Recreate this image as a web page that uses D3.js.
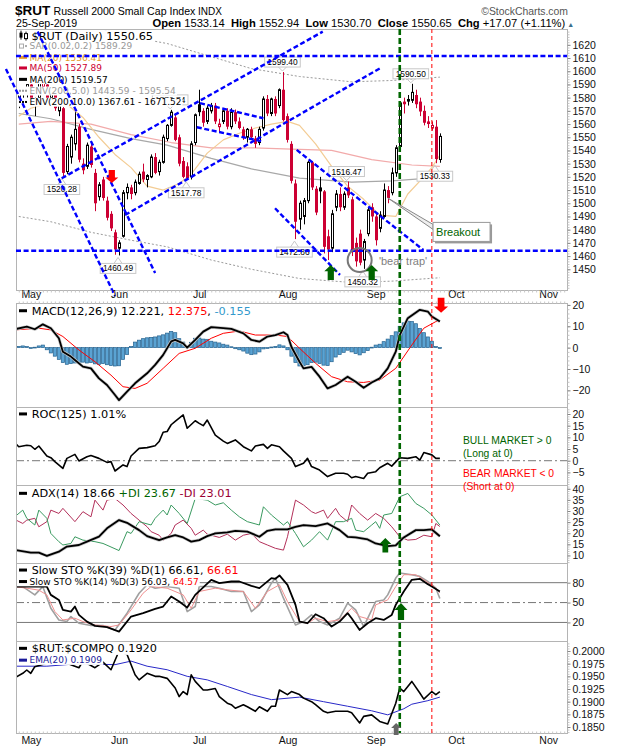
<!DOCTYPE html>
<html>
<head>
<meta charset="utf-8">
<script src="https://cdn.jsdelivr.net/npm/d3@7"></script>
<style>
  body { margin: 0; background: #fff; }
  svg { display: block; font-family: "Liberation Sans", Arial, sans-serif; }
</style>
</head>
<body>
<svg id="chart" width="620" height="750"></svg>
<script>
// ---------- data (trading-day index 0 = 1 May 2019) ----------
var months = ["May", "Jun", "Jul", "Aug", "Sep", "Oct", "Nov"];
var monthStart = [0, 22, 42, 64, 86, 106, 129];
var firstDay = -3;

//            days -3..6 / 7..16 / 17..26 / 27..36 / 37..46 / 47..56 / 57..66 / 67..76 / 77..86 / 87..96 / 97..102
var opens = [1578,1583,1585,1590,1575,1580,1588,1590,1580,1583,
  1570,1572,1524,1535,1545,1558,1530,1528,1543,1523,
  1505,1518,1502,1492,1478,1466,1475,1508,1512,1508,
  1515,1524,1518,1520,1535,1524,1531,1549,1559,1565,
  1550,1532,1528,1520,1546,1575,1570,1562,1570,1574,
  1558,1562,1570,1558,1569,1562,1556,1550,1556,1549,
  1546,1557,1579,1568,1579,1574,1586,1566,1545,1515,
  1488,1490,1502,1531,1511,1512,1509,1475,1466,1497,
  1507,1497,1512,1503,1470,1477,1457,1477,1497,1490,
  1481,1490,1510,1508,1523,1543,1577,1579,1578,1582,
  1577,1570,1562,1557,1558,1533.14];
var highs = [1585,1588,1592,1595,1580,1597,1596,1594,1588,1585,
  1578,1573,1545,1552,1569,1560,1534,1546,1545,1526,
  1516,1520,1505,1494,1480,1472,1510,1515,1514,1518,
  1524,1530,1522,1537,1538,1533,1552,1560,1570.74,1568,
  1552,1535,1531,1547,1568,1586,1572,1574,1576,1576,
  1564,1572,1572,1572,1571,1565,1558,1557,1558,1551,
  1558,1581,1582,1580,1581,1587,1599.40,1568,1547,1518,
  1502,1504,1532,1532,1513,1520,1510,1480,1495,1510,
  1512,1509,1516.47,1505,1474,1480,1473,1497,1500,1493,
  1494,1515,1513,1527,1544,1577,1580,1582,1590.50,1586,
  1580,1574,1566,1562,1563,1552.94];
var lows = [1572,1578,1580,1574,1566,1579,1582,1576,1575,1570,
  1566,1520.28,1522,1530,1540,1531,1522,1526,1527,1494,
  1502,1502,1487,1479,1461,1460.49,1474,1503,1503,1506,
  1514,1516,1512,1519,1522,1521,1530,1547,1558,1547,
  1528,1519,1517.78,1518,1544,1566,1558,1560,1568,1560,
  1554,1560,1556,1556,1560,1556,1548,1546,1548,1542,
  1544,1555,1566,1566,1566,1572,1562,1546,1515,1472.86,
  1480,1484,1500,1510,1491,1500,1462,1457,1463,1494,
  1494,1495,1504,1460,1452,1453,1450.32,1475,1486,1468,
  1478,1489,1500,1506,1520,1542,1568,1574,1576,1572,
  1566,1559,1557,1555,1530.33,1530.70];
var closes = [1583,1586,1590,1576,1578,1594,1592,1579,1583,1572,
  1575,1523,1543,1550,1556,1533,1525,1544,1529,1500,
  1514,1504,1489,1481,1465,1470,1508,1512,1507,1516,
  1522,1518,1521,1535,1523,1531,1550,1559,1569,1548,
  1530,1520,1519,1545,1567,1569,1561,1572,1574,1562,
  1560,1570,1558,1569,1562,1557,1550,1556,1550,1545,
  1556,1579,1568,1579,1568,1586,1563,1548,1517,1486,
  1500,1502,1531,1512,1493,1509,1467,1465,1492,1507,
  1497,1507,1506,1463,1456,1455,1471,1495,1490,1472,
  1491,1510,1504,1523,1542,1576,1575,1577,1584,1575,
  1569.5,1561,1560,1559,1533.5,1550.65];

// overlays: [day, value]
var ma20 = [[-3,1566],[0,1572],[5,1576],[9,1575],[13,1565],[17,1550],[21,1537],[25,1527],[29,1513],[33,1510],[37,1515],[40,1522],[44,1538],[48,1548],[52,1553],[56,1557],[60,1560],[64,1562],[67,1559],[71,1545],[75,1528],[79,1513],[83,1503],[87,1491],[91,1490],[94,1507],[98,1520],[100,1527],[102,1536.41]];
var ma50 = [[-3,1560],[5,1562],[15,1560],[25,1552],[35,1546],[45,1542],[55,1542],[65,1541],[75,1540],[85,1533],[95,1529],[102,1527.89]];
var ma200 = [[-3,1568],[5,1564],[15,1556],[25,1549],[34,1544],[45,1534],[55,1526],[67,1519],[80,1516],[90,1517],[102,1519.57]];
var envUpper = [[-3,1646],[5,1642],[15,1634],[25,1626],[34,1621],[45,1611],[55,1602],[67,1596],[80,1592],[90,1593],[102,1595.54]];
var envLower = [[-3,1490],[5,1486],[15,1478],[25,1472],[34,1467],[45,1457],[55,1450],[67,1443],[80,1440],[90,1441],[102,1443.59]];

var macd = [[-4,8.6],[-1,9.8],[1,8.6],[3,10.9],[5,9.1],[7,4.4],[8,-1.9],[10,-4.2],[11,-5.8],[13,-8.9],[15,-9.7],[17,-14.4],[19,-17.5],[21,-22.2],[22,-24.6],[24,-20.6],[26,-16.7],[29,-12],[31,-8.1],[33,-3.4],[35,2.9],[36,3.6],[38,2.0],[39,0],[41,3.6],[43,7.5],[45,9.6],[48,9.1],[50,8.8],[53,6.7],[55,3.6],[57,2.8],[59,5.2],[61,5.9],[63,7.2],[64,5.9],[65,0.3],[67,-6.6],[68,-9.7],[70,-9],[72,-13.6],[74,-19.1],[76,-17.5],[79,-13.6],[81,-16],[83,-18.8],[85,-16.3],[87,-14.4],[89,-9.7],[91,-1.9],[92,5.9],[94,13.8],[97,17.7],[99,16.9],[100,14.6],[102,12.221]];
var signal = [[-4,8.3],[2,9.1],[5,8.3],[8,5.2],[12,-1.1],[16,-6.6],[20,-12.9],[23,-18.3],[26,-19.1],[29,-16.7],[33,-9.7],[37,-2.7],[41,-0.3],[45,4.4],[48,6.7],[52,7.8],[56,5.9],[61,5.9],[64,5.2],[67,-0.3],[71,-7.3],[75,-13.6],[79,-16],[83,-16.3],[87,-15.2],[91,-9.7],[95,1.2],[98,9.1],[101,12.2],[102,12.375]];
var histogram = [0.6,0.8,0.5,-0.4,0.2,0.8,1.2,-1.0,-2.5,-4.0,
  -5.5,-7.0,-7.8,-7.5,-7.2,-7.0,-6.8,-7.2,-7.0,-7.6,
  -7.9,-7.5,-8.0,-8.4,-8.6,-8.5,-5.5,-3.2,0.5,2.6,
  3.5,4.2,4.6,4.8,5.0,5.5,6.0,6.8,7.6,7.0,
  4.2,2.6,0.8,2.5,4.4,4.5,4.0,3.9,3.0,2.6,
  2.2,1.6,1.2,0.4,-0.5,-1.0,-1.6,-2.6,-3.3,-3.0,
  -2.0,-0.6,-0.2,0.3,0.6,1.3,0.8,-1.0,-4.0,-7.0,
  -8.6,-8.5,-8.0,-7.0,-6.8,-7.4,-8.2,-8.4,-6.6,-4.4,
  -3.2,-2.2,-1.2,-2.0,-2.8,-3.4,-2.4,-1.4,0.2,1.2,
  1.6,2.8,4.0,5.6,7.4,10.0,11.6,12.4,12.2,11.2,
  9.0,7.0,5.0,3.0,0.5,-0.155];

var roc = [[-4,7.7],[-3,6.0],[-1,6.6],[0,6.4],[1,4.9],[2,6.3],[4,2.0],[5,1.3],[6,-0.4],[8,-3.3],[9,1.0],[11,2.7],[12,-0.1],[14,1.7],[15,2.2],[17,1.0],[19,-0.7],[20,-0.4],[21,-4.4],[23,-1.8],[24,-2.5],[25,2.0],[27,5.3],[29,5.6],[31,6.4],[32,8.2],[33,12.2],[34,12.5],[35,15.4],[36,16.8],[38,19.6],[39,13.9],[41,17.1],[42,16.0],[43,15.0],[44,17.4],[46,11.0],[48,8.4],[49,7.4],[51,8.9],[53,6.0],[55,4.2],[56,6.3],[58,7.0],[59,5.3],[60,6.8],[62,6.0],[63,4.2],[65,1.0],[66,-2.5],[68,-1.1],[69,1.0],[70,-2.5],[72,-4.0],[74,-6.8],[76,-5.4],[78,-5.4],[79,-5.8],[80,-7.3],[81,-6.8],[83,-7.6],[84,-5.4],[86,-4.7],[87,-3.0],[89,-1.1],[90,-2.3],[92,1.3],[94,1.0],[96,1.7],[97,0.3],[98,3.5],[100,2.5],[101,1.0],[102,1.01]];

var adx = [[-4,12.5],[0,11.3],[2,11.3],[4,9.8],[7,11.7],[9,14],[12,14.7],[14,16.2],[17,18.5],[19,22.2],[22,25.9],[24,24.7],[27,21.4],[29,18.7],[32,16.9],[34,18.1],[36,19.1],[38,18.1],[40,16.2],[42,16.9],[44,18.7],[46,19.9],[49,20.4],[51,21.1],[54,20.7],[57,18.4],[59,21.1],[61,21.7],[64,21.7],[66,22.9],[68,23.6],[71,23.2],[74,24.4],[77,21.4],[79,18.4],[81,18.1],[84,17.2],[86,15.4],[89,14.2],[91,14.5],[93,18.1],[96,21.4],[98,21.4],[100,21.7],[102,18.66]];
var plusDI = [[-4,27.4],[-2,30.4],[-1,26.7],[1,23.7],[2,30.4],[4,26.7],[5,19.9],[7,16.2],[8,14.7],[10,15.4],[11,18.4],[13,16.9],[16,16.2],[18,15.4],[22,12.2],[24,20.7],[25,19.9],[27,25.2],[30,23.7],[31,26.7],[33,30.4],[34,28.2],[35,32.7],[37,28.9],[39,24.4],[41,35.6],[44,34.9],[46,32.7],[48,33.7],[50,30.4],[52,27.4],[54,25.2],[57,23.7],[58,31.9],[60,28.2],[63,23.7],[64,25.2],[66,19.9],[68,13.9],[70,16.9],[72,20.7],[74,16.9],[76,25.2],[78,25.2],[80,26.7],[81,21.4],[83,20.7],[85,23.7],[86,25.2],[87,22.2],[88,28.2],[90,28.9],[92,36.4],[94,37.9],[96,33.4],[98,31.2],[100,28.2],[102,23.67]];
var minusDI = [[-4,26.2],[-2,24.4],[-1,25.9],[1,26.7],[2,22.9],[4,25.2],[5,30.4],[7,28.9],[8,31.2],[11,25.2],[13,29.7],[15,27.4],[16,34.9],[18,30.4],[19,34.9],[21,35.6],[23,32.7],[25,28.9],[27,25.9],[29,22.9],[30,20.7],[32,19.1],[33,16.9],[35,19.9],[36,23.7],[38,25.9],[40,22.2],[41,19.1],[43,21.4],[44,19.6],[47,18.1],[49,19.6],[51,16.9],[53,19.1],[55,19.9],[57,16.2],[59,14.7],[61,13.2],[63,12.4],[64,18.4],[66,34.9],[68,32.7],[70,29.7],[71,28.9],[73,30.4],[74,26.7],[76,31.2],[77,28.2],[79,25.2],[80,32.7],[82,28.9],[84,25.9],[86,28.9],[88,26.7],[90,22.9],[92,18.4],[94,16.9],[96,17.2],[98,19.1],[100,18.4],[101,24.4],[102,23.01]];

var sto39 = [[-4,74.2],[0,74.2],[4,74.2],[5,61.6],[7,54],[8,38.9],[10,36.4],[11,44],[12,31.4],[14,21.3],[16,14.8],[19,12.8],[22,6.2],[25,28.9],[28,34],[31,40.5],[33,44],[35,59.1],[37,51.5],[39,42.4],[41,61.6],[45,84.3],[47,79.3],[50,81.8],[52,81.8],[55,75.3],[57,71.7],[60,86.9],[61,85.9],[62,90.9],[64,76.8],[66,46.5],[67,21.3],[69,18.8],[71,32.4],[73,26.4],[75,13.8],[77,21.3],[79,34],[80,26.4],[82,8.7],[84,18.8],[86,26.4],[88,23.8],[90,31.4],[91,46.5],[93,66.7],[95,84.3],[97,85.9],[99,77.8],[100,74.2],[102,66.61]];
var sto14K = [[-4,74],[-2,74],[1,61.6],[3,74],[5,41.4],[7,23.8],[9,21.3],[10,28.9],[12,18.8],[15,15.3],[18,15.3],[21,8.7],[24,34],[27,64.1],[29,76.8],[31,71.7],[34,74.2],[37,71.7],[39,36.4],[41,44],[42,74.2],[45,74.2],[47,71.7],[50,66.7],[53,66.7],[55,36.4],[57,46.5],[60,79.3],[61,86.9],[63,56.6],[66,16.2],[68,21.3],[70,31.4],[72,21.3],[74,16.2],[77,26.4],[79,49],[81,38.9],[83,13.8],[86,51.5],[88,54],[89,61.6],[91,86.9],[92,94.5],[95,92],[97,89.5],[99,81.8],[101,71.7],[102,56.03]];
var sto14D = [[-4,74],[-1,71.7],[2,68.7],[4,61.6],[6,36.4],[8,23.8],[11,26.4],[13,21.3],[16,16.2],[20,13.8],[22,16.2],[25,38.9],[28,64.1],[30,74.2],[34,71.7],[38,61.6],[40,41.4],[42,66.7],[46,71.7],[49,69.2],[53,66.7],[56,41.4],[59,66.7],[62,76.8],[64,51.5],[67,21.3],[69,18.8],[71,26.4],[74,21.3],[77,23.8],[80,41.4],[82,28.9],[85,23.8],[86,46.5],[89,54],[91,74.2],[93,92],[96,92],[98,84.3],[101,71.7],[102,64.57]];

var ratio = [[-4,0.1947],[-2,0.1956],[-1,0.19625],[0,0.1956],[1,0.1969],[4,0.1976],[6,0.1982],[8,0.1979],[10,0.1973],[12,0.1967],[13,0.1980],[16,0.1967],[18,0.1978],[20,0.1963],[22,0.2000],[24,0.1993],[26,0.1953],[27,0.1943],[29,0.1956],[31,0.1950],[32,0.1950],[34,0.1946],[36,0.1927],[37,0.1910],[38,0.1920],[39,0.1914],[40,0.1953],[41,0.1940],[43,0.1923],[44,0.1923],[46,0.1926],[47,0.1910],[49,0.1897],[50,0.1894],[51,0.1887],[53,0.1894],[54,0.1890],[56,0.1881],[57,0.1890],[59,0.1881],[60,0.1891],[61,0.1891],[62,0.1923],[64,0.1914],[65,0.1920],[67,0.1914],[68,0.1907],[70,0.1900],[71,0.1894],[73,0.1881],[74,0.1878],[76,0.1881],[77,0.1881],[79,0.1881],[80,0.1878],[82,0.1858],[83,0.1871],[85,0.1874],[87,0.1861],[89,0.1856],[91,0.1897],[92,0.1927],[93,0.1920],[95,0.1940],[97,0.1917],[98,0.1905],[100,0.1920],[101,0.1914],[102,0.1920]];
var ratioEma = [[-4,0.1970],[4,0.1970],[12,0.1975],[21,0.1973],[25,0.1980],[29,0.1970],[34,0.1963],[39,0.1950],[44,0.1943],[49,0.1930],[55,0.1914],[60,0.1904],[67,0.1909],[73,0.1900],[79,0.1891],[85,0.1882],[89,0.1874],[93,0.1886],[95,0.1895],[99,0.1902],[102,0.1909]];

// annotations on the price panel, in [day, price]
var priceTags = [[63,1599.40,1],[95,1590.50,1],[79,1516.47,1],[35,1570.74,1],[8,1520.28,-1],[22,1460.49,-1],[39,1517.78,-1],[66,1472.86,-1],[83,1450.32,-1],[101,1530.33,-1]];
var trendLines = [
  [[-6.2,1601.7],[21.0,1429.8]], [[1.7,1630],[31.0,1447.2]],
  [[7.7,1518.9],[72.8,1630]], [[23.5,1491.1],[87.1,1602.3]],
  [[42.2,1575.8],[58.0,1564.4]], [[41.4,1557.6],[58.0,1546.7]],
  [[66.3,1540.4],[97.9,1464.6]], [[60.9,1496.2],[77.1,1445.7]]
];
var levelLines = [1611.6, 1464];
var greenDay = 92, redDay = 100;

// ---------- layout ----------
var svg = d3.select("#chart");
var left = 16, right = 567;
var x = d3.scaleLinear().domain([-3.69, 133.7]).range([left, right]);

var panels = {
  price: { top: 29, bottom: 290, domain: [1434.3, 1632] },
  macd:  { top: 303, bottom: 407, domain: [-27.8, 20.9] },
  roc:   { top: 407, bottom: 485, domain: [-10.4, 23] },
  adx:   { top: 485, bottom: 563, domain: [6.6, 41.7] },
  sto:   { top: 563, bottom: 641, domain: [-8, 109.7] },
  ratio: { top: 641, bottom: 733, domain: [0.18382, 0.20197] }
};
var defs = svg.append("defs");
Object.keys(panels).forEach(function(k) {
  var p = panels[k];
  p.y = d3.scaleLinear().domain(p.domain).range([p.bottom, p.top]);
  defs.append("clipPath").attr("id", "clip-" + k).append("rect")
    .attr("x", left).attr("y", p.top).attr("width", right - left).attr("height", p.bottom - p.top);
  p.g = svg.append("g");
  p.plot = p.g.append("g").attr("clip-path", "url(#clip-" + k + ")");
});

function frame(p) {
  p.g.append("rect").attr("x", left + 0.5).attr("y", p.top + 0.5)
    .attr("width", right - left).attr("height", p.bottom - p.top)
    .attr("fill", "none").attr("stroke", "#b4b4b4");
}

function rightAxis(p, ticks, fmt, minor) {
  if (minor) {
    p.g.append("g").attr("transform", "translate(" + (right + 0.5) + ",0)")
      .call(d3.axisRight(p.y).tickValues(minor).tickSize(2).tickFormat(""))
      .call(function(a) { a.select(".domain").remove(); a.selectAll("line").attr("stroke", "#c4c4c4"); });
  }
  p.g.append("g").attr("transform", "translate(" + (right + 0.5) + ",0)")
    .call(d3.axisRight(p.y).tickValues(ticks).tickSize(3).tickPadding(2).tickFormat(fmt))
    .call(function(a) {
      a.select(".domain").remove();
      a.selectAll("line").attr("stroke", "#888");
      a.selectAll("text").attr("fill", "#111").style("font-size", "10.5px")
        .style("font-family", "Liberation Sans, Arial, sans-serif");
    });
}

function drawLine(p, pts, color, width, dash) {
  p.plot.append("path").datum(pts)
    .attr("d", d3.line().x(function(d) { return x(d[0]); }).y(function(d) { return p.y(d[1]); }))
    .attr("fill", "none").attr("stroke", color).attr("stroke-width", width)
    .attr("stroke-linejoin", "round").attr("stroke-dasharray", dash || null);
}

function hline(p, v, color, dash) {
  p.plot.append("line").attr("x1", left).attr("x2", right)
    .attr("y1", p.y(v)).attr("y2", p.y(v))
    .attr("stroke", color).attr("stroke-width", 1).attr("stroke-dasharray", dash || null);
}

// legend row: icon + coloured text parts on a white backing
function legend(p, x0, y0, size, icon, iconColor, parts) {
  var g = p.g.append("g");
  var bg = g.append("rect").attr("fill", "#fff");
  var t = g.append("text").attr("x", x0).attr("y", y0)
    .style("font-family", "DejaVu Sans, sans-serif").style("font-size", size + "px");
  parts.forEach(function(d) { t.append("tspan").attr("fill", d[1]).text(d[0]); });
  var bb = t.node().getBBox();
  bg.attr("x", 17).attr("y", bb.y + 0.5).attr("width", bb.x + bb.width - 16).attr("height", bb.height - 1);
  var cy = y0 - size * 0.36;
  if (icon === "line") {
    g.append("rect").attr("x", 19).attr("y", cy - 1.5).attr("width", 8).attr("height", 3).attr("fill", iconColor);
  } else if (icon === "dots") {
    [19, 22, 25].forEach(function(d) {
      g.append("rect").attr("x", d).attr("y", cy - 1).attr("width", 2).attr("height", 2).attr("fill", iconColor);
    });
  } else if (icon === "sar") {
    g.append("rect").attr("x", 19.5).attr("y", cy - 2).attr("width", 4).attr("height", 4).attr("fill", "none").attr("stroke", iconColor);
    g.append("rect").attr("x", 25).attr("y", cy - 1).attr("width", 2).attr("height", 2).attr("fill", iconColor);
  } else if (icon === "candle") {
    g.append("line").attr("x1", 21).attr("x2", 21).attr("y1", cy - 5).attr("y2", cy + 4).attr("stroke", "#000");
    g.append("rect").attr("x", 19.5).attr("y", cy - 3).attr("width", 3).attr("height", 5).attr("fill", "#000");
    g.append("line").attr("x1", 26).attr("x2", 26).attr("y1", cy - 4).attr("y2", cy + 5).attr("stroke", "#000");
    g.append("rect").attr("x", 24.5).attr("y", cy - 2).attr("width", 3).attr("height", 5).attr("fill", "#fff").attr("stroke", "#000");
  }
}

function arrow(g, cx, tip, dir, w, h, color) {
  var hw = w / 2, sw = w * 0.24, hh = h * 0.42;
  var s = dir; // 1 = points up, -1 = points down
  var pts = [[cx, tip], [cx + hw, tip + s * hh], [cx + sw, tip + s * hh], [cx + sw, tip + s * h],
             [cx - sw, tip + s * h], [cx - sw, tip + s * hh], [cx - hw, tip + s * hh]];
  g.append("polygon").attr("points", pts.map(function(d) { return d.join(","); }).join(" ")).attr("fill", color);
}

// ---------- header ----------
svg.append("text").attr("x", 15).attr("y", 15).style("font-size", "13.5px").style("font-weight", "bold").text("$RUT");
svg.append("text").attr("x", 53.5).attr("y", 14.5).style("font-size", "10.6px").text("Russell 2000 Small Cap Index");
svg.append("text").attr("x", 198).attr("y", 14.5).style("font-size", "10px").text("INDX");
svg.append("text").attr("x", 568).attr("y", 14.5).attr("text-anchor", "end").attr("fill", "#555")
  .style("font-size", "10.4px").text("\u00a9StockCharts.com");
svg.append("text").attr("x", 16).attr("y", 26.5).style("font-size", "10.6px").text("25-Sep-2019");
var info = svg.append("text").attr("x", 152.5).attr("y", 26.5).style("font-size", "11.2px");
[["Open ", 1], ["1533.14  ", 0], ["High ", 1], ["1552.94  ", 0], ["Low ", 1], ["1530.70  ", 0],
 ["Close ", 1], ["1550.65  ", 0], ["Chg ", 1], ["+17.07 (+1.11%)", 0]].forEach(function(d) {
  info.append("tspan").attr("font-weight", d[1] ? "bold" : "normal").attr("xml:space", "preserve").text(d[0]);
});
info.append("tspan").attr("fill", "#3a6f8c").style("font-size", "7px").attr("dx", 2).text("\u25b2");

// ---------- price panel ----------
var P = panels.price;
frame(P);
drawLine(P, envUpper, "#9a9a9a", 1, "2,2");
drawLine(P, envLower, "#9a9a9a", 1, "2,2");
drawLine(P, ma200, "#a8a8a8", 1.2);
drawLine(P, ma50, "#f2aaaa", 1.2);
drawLine(P, ma20, "#f3cc94", 1.2);

var candles = d3.range(opens.length).map(function(k) {
  return { day: firstDay + k, o: opens[k], h: highs[k], l: lows[k], c: closes[k],
           prev: k > 0 ? closes[k - 1] : opens[k] };
});
var cg = P.plot.selectAll("g.candle").data(candles).enter().append("g");
cg.each(function(d) {
  var g = d3.select(this), cx = Math.round(x(d.day)) + 0.5;
  var col = d.c < d.prev ? "#cc0033" : "#000";
  var top = P.y(Math.max(d.o, d.c)), bot = P.y(Math.min(d.o, d.c));
  g.append("line").attr("x1", cx).attr("x2", cx).attr("y1", P.y(d.h)).attr("y2", P.y(d.l)).attr("stroke", col);
  if (d.c >= d.o) {
    g.append("rect").attr("x", cx - 1).attr("y", top).attr("width", 2).attr("height", Math.max(1, bot - top))
      .attr("fill", "#fff").attr("stroke", col);
  } else {
    g.append("rect").attr("x", cx - 1.5).attr("y", top).attr("width", 3).attr("height", Math.max(1, bot - top))
      .attr("fill", col);
  }
});

// high / low tags
priceTags.forEach(function(d) {
  var cx = x(d[0]) - 1, py = P.y(d[1]);
  var g = P.g.append("g");
  var t = g.append("text").attr("text-anchor", "middle").attr("x", cx)
    .style("font-size", "8.4px").text(d[1].toFixed(2));
  var w = t.node().getBBox().width + 5, h = 10;
  var by = d[2] > 0 ? py - 5 - h : py + 8;
  var tipY = d[2] > 0 ? py - 1 : py + 2, edge = d[2] > 0 ? by + h : by;
  g.insert("polyline", "text").attr("points", [[cx - 4, edge], [cx, tipY], [cx + 4, edge]].map(String).join(" "))
    .attr("fill", "none").attr("stroke", "#c8c8c8");
  g.insert("rect", "text").attr("x", cx - w / 2).attr("y", by).attr("width", w).attr("height", h)
    .attr("fill", "#fff").attr("stroke", "#c8c8c8");
  t.attr("y", by + 8);
});

legend(P, 31.5, 39.7, 11.3, "candle", "#000", [["$RUT (Daily) 1550.65", "#000"]]);
legend(P, 29.5, 49.3, 9, "sar", "#aaa", [["SAR(0.02,0.2) 1589.29", "#999"]]);
legend(P, 29.5, 60.6, 9, "line", "#e69a28", [["MA(20) 1536.41", "#e69a28"]]);
legend(P, 29.5, 71.2, 9, "line", "#cc0033", [["MA(50) 1527.89", "#cc0033"]]);
legend(P, 29.5, 82.6, 9, "line", "#000", [["MA(200) 1519.57", "#000"]]);
legend(P, 29.5, 94, 9, "dots", "#999", [["ENV(200,5.0) 1443.59 - 1595.54", "#999"]]);
legend(P, 29.5, 105.2, 9, "dots", "#000", [["ENV(200,10.0) 1367.61 - 1671.52", "#000"]]);

// blue trend lines drawn over everything in the panel
levelLines.forEach(function(v) {
  P.g.append("line").attr("x1", left).attr("x2", right).attr("y1", P.y(v)).attr("y2", P.y(v))
    .attr("stroke", "#0000ff").attr("stroke-width", 2.4).attr("stroke-dasharray", "5,2.6");
});
trendLines.forEach(function(l) {
  P.g.append("line").attr("x1", x(l[0][0])).attr("y1", P.y(l[0][1]))
    .attr("x2", x(l[1][0])).attr("y2", P.y(l[1][1]))
    .attr("stroke", "#0000ff").attr("stroke-width", 2.4).attr("stroke-dasharray", "5,2.6");
});

rightAxis(P, d3.range(1450, 1621, 10), d3.format("d"), d3.range(1436, 1631, 2));

// month labels between price and MACD
function monthAxis(yPos, pad) {
  svg.append("g").attr("transform", "translate(0," + yPos + ")")
    .call(d3.axisBottom(x).tickValues(monthStart).tickSize(0).tickPadding(pad)
      .tickFormat(function(d, k) { return months[k]; }))
    .call(function(a) {
      a.select(".domain").remove();
      a.selectAll("text").attr("fill", "#111").style("font-size", "10.5px")
        .style("font-family", "Liberation Sans, Arial, sans-serif");
    });
}
monthAxis(289, 1.5);
monthAxis(733, 3.5);
// daily minor ticks
[[303, -2], [733, -2], [290, 2]].forEach(function(t) {
  svg.append("g").attr("transform", "translate(0," + (t[0] + 0.5) + ")")
    .call(d3.axisBottom(x).tickValues(d3.range(-3, 134)).tickSize(t[1]).tickFormat(""))
    .call(function(a) { a.select(".domain").remove(); a.selectAll("line").attr("stroke", "#c8c8c8"); });
});

// ---------- MACD ----------
var M = panels.macd;
frame(M);
M.plot.selectAll("rect.h").data(histogram).enter().append("rect")
  .attr("x", function(d, k) { return x(firstDay + k) - 1.6; })
  .attr("y", function(d) { return M.y(Math.max(0, d)); })
  .attr("width", 3.2)
  .attr("height", function(d) { return Math.max(0.8, Math.abs(M.y(d) - M.y(0))); })
  .attr("fill", "#5aa3d3").attr("stroke", "#24628f").attr("stroke-width", 0.7);
drawLine(M, signal, "#ff0000", 1);
drawLine(M, macd, "#c8c8c8", 3.2);
drawLine(M, macd, "#000", 1.8);
legend(M, 31.7, 314.8, 11.3, "line", "#000", [["MACD(12,26,9) 12.221", "#000"], [", ", "#000"], ["12.375", "#ff0000"], [", ", "#000"], ["-0.155", "#3399cc"]]);
rightAxis(M, [-20, -10, 0, 10, 20], d3.format("d"), d3.range(-26, 21, 2));

// ---------- ROC ----------
var R = panels.roc;
frame(R);
hline(R, 0, "#777", "8,3,2,3");
drawLine(R, roc, "#000", 1.6);
legend(R, 31.7, 418, 11.3, "line", "#000", [["ROC(125) 1.01%", "#000"]]);
rightAxis(R, [-5, 0, 5, 10, 15, 20], d3.format("d"), d3.range(-10, 23, 1));
[["BULL MARKET > 0", "#006400", 443.6], ["(Long at 0)", "#006400", 457], ["BEAR MARKET < 0", "#ff0000", 477]]
  .forEach(function(d) {
    svg.append("text").attr("x", 463).attr("y", d[2]).attr("fill", d[1]).style("font-size", "10.3px").text(d[0]);
  });

// ---------- ADX ----------
var A = panels.adx;
frame(A);
drawLine(A, minusDI, "#b3305a", 1);
drawLine(A, plusDI, "#3a9a60", 1);
drawLine(A, adx, "#c8c8c8", 3.2);
drawLine(A, adx, "#000", 1.8);
legend(A, 31.7, 497.4, 11.3, "line", "#000", [["ADX(14) 18.66 ", "#000"], ["+DI 23.67 ", "#006400"], ["-DI 23.01", "#990033"]]);
rightAxis(A, [10, 15, 20, 25, 30, 35, 40], d3.format("d"), d3.range(7, 42, 1));
// the "(Short at 0)" note sits on top of the ADX frame
svg.append("text").attr("x", 463).attr("y", 489.6).attr("fill", "#ff0000").style("font-size", "10.3px").text("(Short at 0)");

// ---------- Slow stochastics ----------
var S = panels.sto;
frame(S);
hline(S, 80, "#777");
hline(S, 20, "#777");
hline(S, 50, "#777", "8,3,2,3");
drawLine(S, sto14K, "#a0a0a0", 1.6);
drawLine(S, sto14D, "#f09090", 1);
drawLine(S, sto39, "#000", 1.8);
legend(S, 31.7, 574, 11, "line", "#000", [["Slow STO %K(39) %D(1) 66.61, ", "#000"], ["66.61", "#ff0000"]]);
legend(S, 29.5, 584.8, 9, "line", "#000", [["Slow STO %K(14) %D(3) 56.03, ", "#000"], ["64.57", "#ff0000"]]);
rightAxis(S, [20, 50, 80], d3.format("d"), null);

// ---------- $RUT:$COMPQ ----------
var Q = panels.ratio;
frame(Q);
drawLine(Q, ratioEma, "#2828c8", 1);
drawLine(Q, ratio, "#000", 1.6);
legend(Q, 31.7, 652.4, 11.3, "line", "#000", [["$RUT:$COMPQ 0.1920", "#000"]]);
legend(Q, 29.5, 663.4, 9, "line", "#1a1a9a", [["EMA(20) 0.1909", "#1a1a9a"]]);
rightAxis(Q, d3.range(0.185, 0.2001, 0.0025), d3.format(".4f"), d3.range(0.1840, 0.2019, 0.0005));

// ---------- vertical markers and callouts ----------
svg.append("line").attr("x1", x(greenDay)).attr("x2", x(greenDay)).attr("y1", 29).attr("y2", 733)
  .attr("stroke", "#006600").attr("stroke-width", 2.6).attr("stroke-dasharray", "6,3");
svg.append("line").attr("x1", x(redDay)).attr("x2", x(redDay)).attr("y1", 29).attr("y2", 733)
  .attr("stroke", "#ff0000").attr("stroke-width", 1).attr("stroke-dasharray", "4,3");

// breakout callout
var ax = x(89), ay = P.y(1504), bx = x(100.3), by = P.y(1485.5);
svg.append("polygon").attr("points", [[ax, ay], [bx, by + 2], [bx, by + 7]].map(String).join(" "))
  .attr("fill", "#eee").attr("stroke", "#888");
svg.append("rect").attr("x", bx + 2).attr("y", by + 2).attr("width", 57).attr("height", 19).attr("fill", "#999");
svg.append("rect").attr("x", bx).attr("y", by).attr("width", 57).attr("height", 19)
  .attr("fill", "#fff").attr("stroke", "#999");
svg.append("text").attr("x", bx + 3).attr("y", by + 13.5).attr("fill", "#006400").style("font-size", "11px").text("Breakout");

// bear trap circle and note
svg.append("circle").attr("cx", x(82)).attr("cy", P.y(1457)).attr("r", 12)
  .attr("fill", "none").attr("stroke", "#777").attr("stroke-width", 2);
svg.append("text").attr("x", x(86.8)).attr("y", P.y(1453.5)).attr("fill", "#808080").style("font-size", "11px").text("'bear trap'");

// arrows
arrow(svg, x(74.8), P.y(1453.3), 1, 13, 15, "#006400");
arrow(svg, x(85), P.y(1453.3), 1, 13, 15, "#006400");
arrow(svg, x(20.2), P.y(1515.4), -1, 13, 13, "#ff0000");
arrow(svg, x(102.3), M.y(16.3), -1, 14, 15, "#ff0000");
arrow(svg, x(88.4), A.y(17.9), 1, 12, 14.5, "#006400");
arrow(svg, x(92.3), S.y(49.5), 1, 13, 17, "#006400");
arrow(svg, x(91.1), Q.y(0.18579), 1, 10, 12, "#666");
</script>
</body>
</html>
